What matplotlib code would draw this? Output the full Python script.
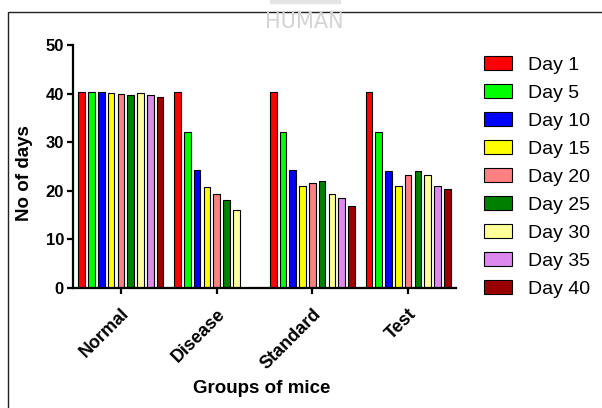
import matplotlib
matplotlib.use("Agg")
import matplotlib.pyplot as plt
from matplotlib.patches import Rectangle
import numpy as np

plt.rcParams['font.family'] = ['Liberation Sans', 'DejaVu Sans']

# data
groups = ["Normal", "Disease", "Standard", "Test"]
days = ["Day 1", "Day 5", "Day 10", "Day 15", "Day 20", "Day 25", "Day 30", "Day 35", "Day 40"]
normal = [40.3, 40.3, 40.3, 40.1, 40.0, 39.8, 40.1, 39.8, 39.4]
disease = [40.3, 32.2, 24.2, 20.8, 19.3, 18.2, 16.1, np.nan, np.nan]
standard = [40.3, 32.2, 24.3, 20.9, 21.6, 22.0, 19.4, 18.6, 16.9]
test = [40.3, 32.2, 24.1, 21.0, 23.2, 24.1, 23.3, 21.0, 20.3]
colors = ["#FF0000", "#00FF00", "#0000FF", "#FFFF00", "#FF8080",
          "#008000", "#FFFF99", "#DD88EE", "#990000"]

values = np.array([normal, disease, standard, test])

fig = plt.figure(figsize=(6.02, 4.08), dpi=100)
ax = fig.add_axes([73/602, 1-288/408, (456-73)/602, (288-45)/408])

x = np.arange(len(groups))
step = 0.102
width = 0.07
for i in range(len(days)):
    ax.bar(x + (i - 4)*step, values[:, i], width, color=colors[i],
           edgecolor="black", linewidth=0.8, label=days[i])

ax.set_xlim(-0.5, 3.5)
ax.set_ylim(0, 50)
ax.set_yticks([0, 10, 20, 30, 40, 50])
ax.set_xticks(x)
ax.set_xticklabels(groups, rotation=45, ha="right", rotation_mode="anchor",
                   fontsize=13, fontweight="bold")
for lab in ax.get_yticklabels():
    lab.set_fontsize(12)
    lab.set_fontweight("bold")

for s in ["top", "right"]:
    ax.spines[s].set_visible(False)
for s in ["left", "bottom"]:
    ax.spines[s].set_linewidth(1.6)
ax.tick_params(width=1.6, length=4.5, pad=2)
ax.tick_params(axis="x", pad=8)

ax.set_ylabel("No of days", fontsize=13.5, fontweight="bold")
ax.set_xlabel("Groups of mice", fontsize=13.5, fontweight="bold")
ax.yaxis.set_label_coords(-0.105, 0.473)
ax.xaxis.set_label_coords(0.493, -0.38)

fs = 14
fpx = fs * 100 / 72
ax.legend(loc="upper left", bbox_to_anchor=(484/602, 1-56/408),
          bbox_transform=fig.transFigure, frameon=False, fontsize=fs,
          borderpad=0, borderaxespad=0, handlelength=28/fpx,
          handleheight=14/fpx, handletextpad=16/fpx, labelspacing=0.53)

# frame around the figure and watermark
fig.patches.append(Rectangle((8/602, -0.1), 1.2, 1.1 - 12/408,
                             transform=fig.transFigure, fill=False,
                             edgecolor="#222222", linewidth=1.0))
fig.patches.append(Rectangle((270/602, 1-3/408), 70/602, 3/408,
                             transform=fig.transFigure, color="#e4e4e4"))
fig.text(304/602, 1-22/408, "HUMAN", color="#d4d4d4", fontsize=15,
         ha="center", va="center", family="DejaVu Sans")

fig.savefig("out.png", dpi=100)
